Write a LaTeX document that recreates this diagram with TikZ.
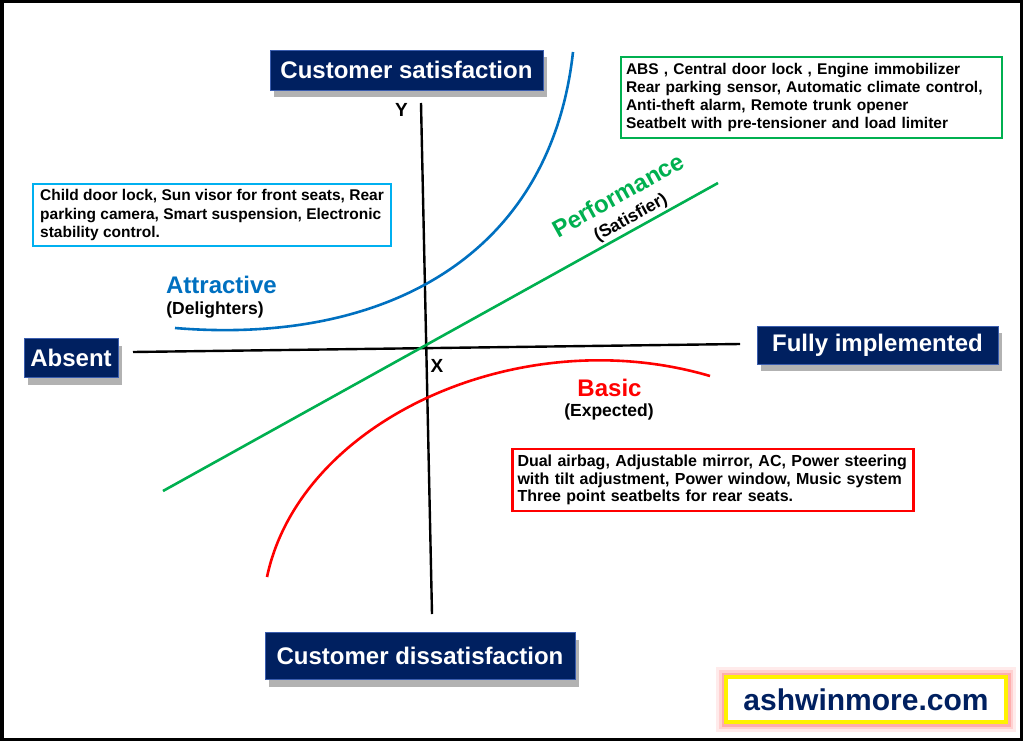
\documentclass[tikz,border=0pt]{standalone}
\usepackage{fontspec}
\setmainfont{Liberation Sans}
\usetikzlibrary{shadows}

\definecolor{navy}{HTML}{002060}
\definecolor{navyedge}{HTML}{3A5DAE}
\definecolor{perfgreen}{HTML}{00B050}
\definecolor{delightblue}{HTML}{0070C0}
\definecolor{boxcyan}{HTML}{00B0F0}

\begin{document}
\begin{tikzpicture}[x=1pt, y=-1pt,
  axisbox/.style={fill=navy, draw=navyedge, line width=0.6pt, text=white, inner sep=0pt,
    font=\fontsize{24}{28}\selectfont\bfseries,
    drop shadow={shadow xshift=4pt, shadow yshift=-7pt, opacity=0.3, fill=black}},
  infobox/.style={draw=#1, line width=2.6pt, fill=white, align=left, inner xsep=5pt,
    font=\fontsize{15.5}{18}\selectfont\bfseries},
  axisline/.style={line width=2.4pt},
  kanocurve/.style={line width=2.6pt},
  curvename/.style={font=\fontsize{24}{28}\selectfont\bfseries},
  curvenote/.style={font=\fontsize{17.5}{20}\selectfont\bfseries},
  axisletter/.style={font=\fontsize{19}{22}\selectfont\bfseries}
]
\useasboundingbox (0,0) rectangle (1024,741);
\draw[line width=3.5pt] (1.75,1.75) rectangle (1021.5,739.25);

% axes
\coordinate (ytop) at (421,103);
\coordinate (ybot) at (432,614);
\coordinate (xleft) at (133,352);
\coordinate (xright) at (740,344);
\draw[axisline] (ytop) -- (ybot);
\draw[axisline] (xleft) -- (xright);
\node[axisletter] (ylab) at (401.5,110) {Y};
\node[axisletter] (xlab) at (437,366) {X};

% the three curves
\coordinate (attstart) at (175,328);
\coordinate (attend) at (573,52);
\coordinate (perfstart) at (163,491);
\coordinate (perfend) at (718,183);
\coordinate (basstart) at (267,577);
\coordinate (basend) at (710,376);
\draw[kanocurve, delightblue] (attstart) .. controls (380,345) and (550,260) .. (attend);
\draw[kanocurve, perfgreen] (perfstart) -- (perfend);
\draw[kanocurve, red] (basstart) .. controls (300,420) and (520,320) .. (basend);

% curve labels
\node[curvename, delightblue] (attname) at (221.5,285) {Attractive};
\node[curvenote] (attnote) at (215,310) {(Delighters)};
\node[curvename, perfgreen, rotate=29] (perfname) at (618,195) {Performance};
\node[curvenote, rotate=29] (perfnote) at (631,218) {(Satisfier)};
\node[curvename, red] (basname) at (609.5,388) {Basic};
\node[curvenote] (basnote) at (609,412) {(Expected)};

% axis end boxes
\node[axisbox, minimum width=273pt, minimum height=40pt] (satis) at (406.5,70) {Customer satisfaction};
\node[axisbox, minimum width=310pt, minimum height=47pt] (dissat) at (420,656) {Customer dissatisfaction};
\node[axisbox, minimum width=94pt, minimum height=39pt] (absent) at (71,358) {Absent};
\node[axisbox, minimum width=241pt, minimum height=38pt] (fullimp) at (877.5,345) {Fully implemented};

% feature lists
\node[infobox=perfgreen, minimum width=381pt, minimum height=81pt, text width=371pt] (perflist) at (811.5,97.5)
  {ABS , Central door lock , Engine immobilizer\\Rear parking sensor, Automatic climate control,\\Anti-theft alarm, Remote trunk opener\\Seatbelt with pre-tensioner and load limiter};
\node[infobox=boxcyan, minimum width=358pt, minimum height=62pt,
  font=\fontsize{15.5}{18.5}\selectfont\bfseries] (attlist) at (212,215)
  {Child door lock, Sun visor for front seats, Rear\\parking camera, Smart suspension, Electronic\\stability control.};
\node[infobox=red, minimum width=401pt, minimum height=62pt, text width=391pt,
  font=\fontsize{16}{17.5}\selectfont\bfseries] (baslist) at (713,480)
  {Dual airbag, Adjustable mirror, AC, Power steering\\with tilt adjustment, Power window, Music system\\Three point seatbelts for rear seats.};

% site mark
\node[draw=yellow, line width=4.5pt, fill=white, minimum width=280pt, minimum height=45pt,
  preaction={draw=red!8, line width=20pt},
  preaction={draw=red!18, line width=14pt},
  preaction={draw=red!32, line width=9pt},
  text=navy, font=\fontsize{30}{34}\selectfont\bfseries] (site) at (866,699.5) {ashwinmore.com};
\end{tikzpicture}
\end{document}
